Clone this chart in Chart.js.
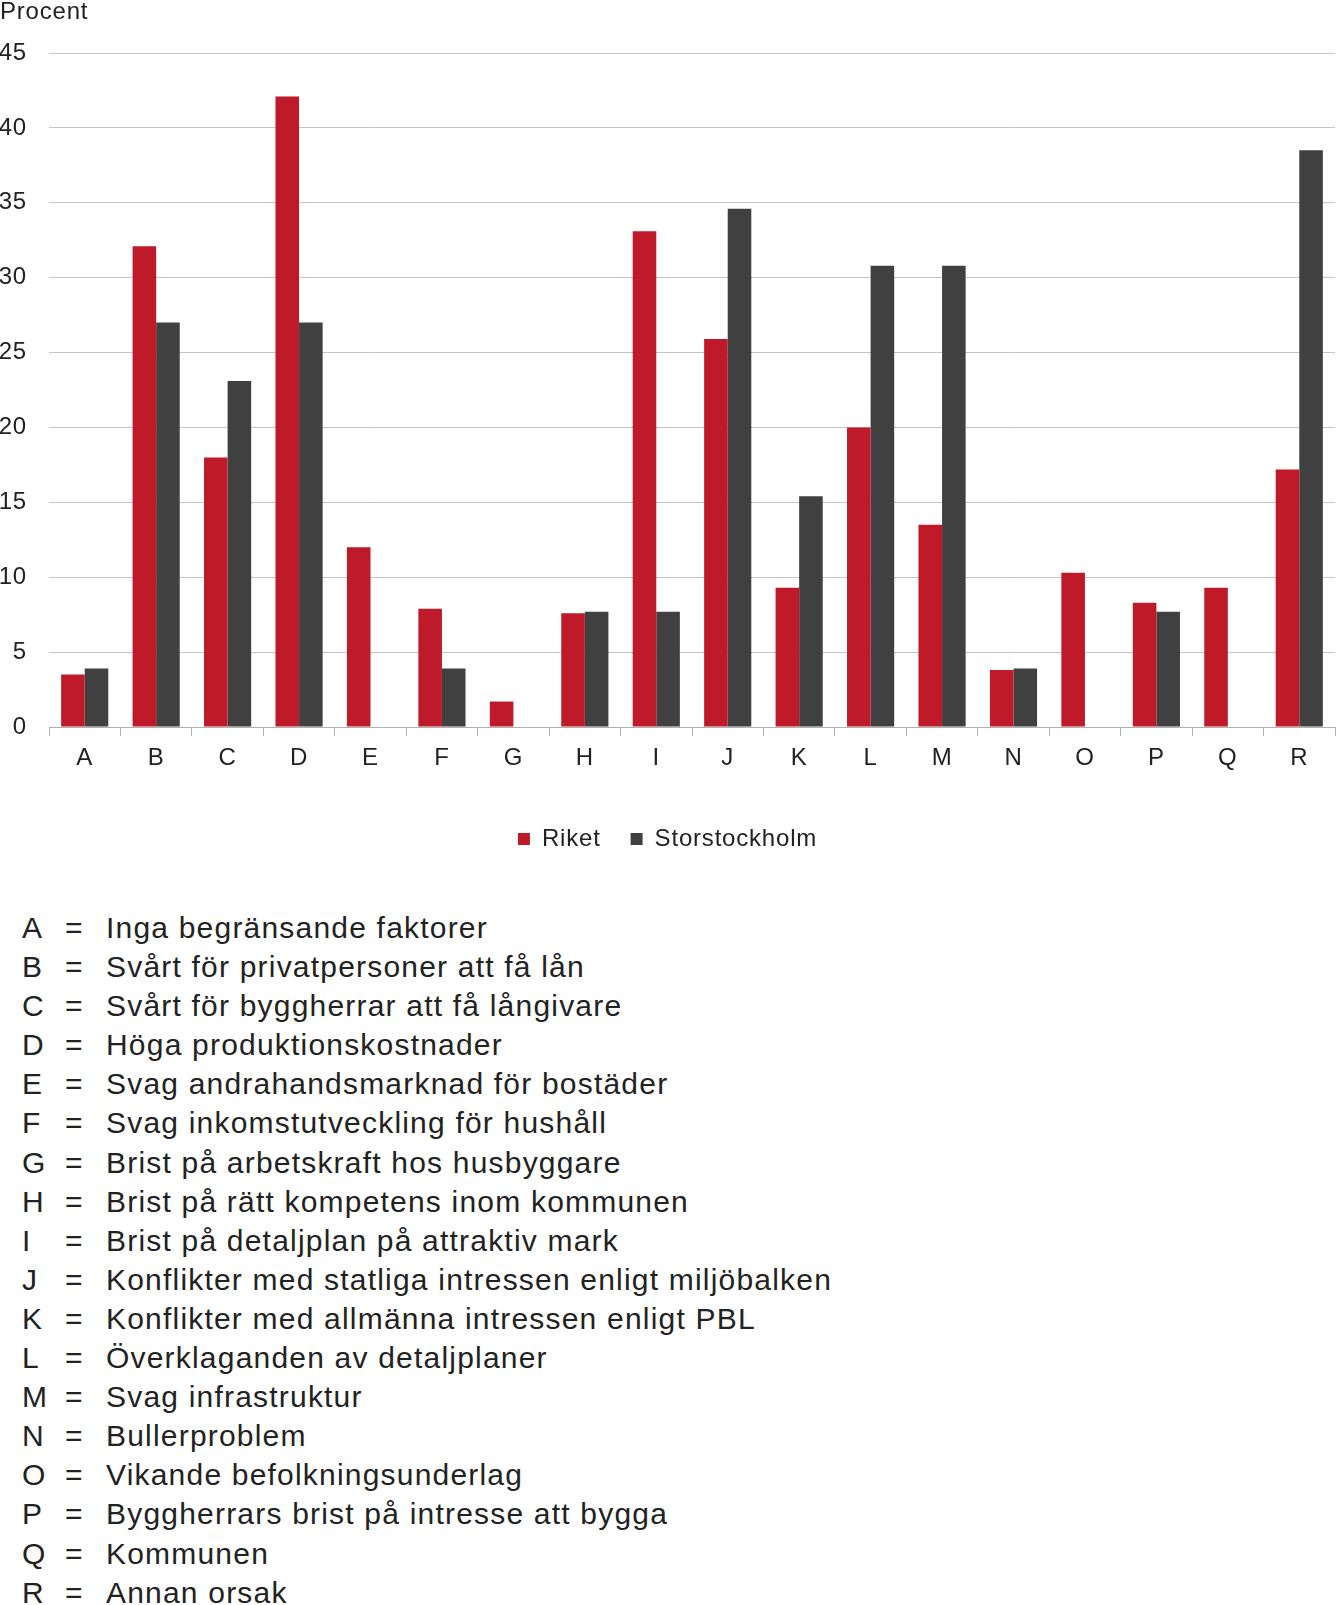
<!DOCTYPE html>
<html lang="sv">
<head>
<meta charset="utf-8">
<title>Begränsande faktorer</title>
<script src="https://cdn.jsdelivr.net/npm/chart.js@4/dist/chart.umd.min.js"></script>
<style>
    html, body {
        margin: 0;
        padding: 0;
        background: #fff;
        width: 1336px;
        height: 1605px;
        overflow: hidden;
        font-family: "Liberation Sans", Arial, sans-serif;
        color: #222;
    }
    #chartBox {
        position: absolute;
        left: 0;
        top: 0;
        width: 1336px;
        height: 861px;
    }
    #key {
        position: absolute;
        left: 0;
        top: 908px;
        font-size: 30px;
        letter-spacing: 1.2px;
        line-height: 39.1px;
    }
    #key .row { display: flex; white-space: nowrap; }
    #key .code { width: 43px; padding-left: 22px; }
    #key .eq { width: 41px; }
</style>
</head>
<body>
<div id="chartBox"><canvas id="barChart"></canvas></div>
<div id="key"></div>

<script>
// ============================================================================
// Data
// ============================================================================
const categories = ['A', 'B', 'C', 'D', 'E', 'F', 'G', 'H', 'I', 'J', 'K', 'L', 'M', 'N', 'O', 'P', 'Q', 'R'];
const riket = [3.5, 32.1, 18.0, 42.1, 12.0, 7.9, 1.7, 7.6, 33.1, 25.9, 9.3, 20.0, 13.5, 3.8, 10.3, 8.3, 9.3, 17.2];
const storstockholm = [3.9, 27.0, 23.1, 27.0, 0, 3.9, 0, 7.7, 7.7, 34.6, 15.4, 30.8, 30.8, 3.9, 0, 7.7, 0, 38.5];
const yTicks = [0, 5, 10, 15, 20, 25, 30, 35, 40, 45];
const descriptions = [
    'Inga begränsande faktorer',
    'Svårt för privatpersoner att få lån',
    'Svårt för byggherrar att få långivare',
    'Höga produktionskostnader',
    'Svag andrahandsmarknad för bostäder',
    'Svag inkomstutveckling för hushåll',
    'Brist på arbetskraft hos husbyggare',
    'Brist på rätt kompetens inom kommunen',
    'Brist på detaljplan på attraktiv mark',
    'Konflikter med statliga intressen enligt miljöbalken',
    'Konflikter med allmänna intressen enligt PBL',
    'Överklaganden av detaljplaner',
    'Svag infrastruktur',
    'Bullerproblem',
    'Vikande befolkningsunderlag',
    'Byggherrars brist på intresse att bygga',
    'Kommunen',
    'Annan orsak'
];

const RED = '#be1a2a';
const DARK = '#404040';
const TEXT = '#222222';
const FONT = '"Liberation Sans", Arial, sans-serif';

// Key below the chart
const key = document.getElementById('key');
categories.forEach((c, i) => {
    const row = document.createElement('div');
    row.className = 'row';
    row.innerHTML = `<span class="code">${c}</span><span class="eq">=</span><span>${descriptions[i]}</span>`;
    key.appendChild(row);
});

// Helper: slight letter spacing on canvas text
const spacing = {
    id: 'spacing',
    beforeUpdate(chart) { chart.ctx.letterSpacing = '0.8px'; },
    beforeDraw(chart) { chart.ctx.letterSpacing = '0.8px'; }
};

new Chart(document.getElementById('barChart'), {
    type: 'bar',
    data: {
        labels: categories,
        datasets: [{
            label: 'Riket',
            data: riket,
            backgroundColor: RED,
            borderWidth: 0,
            barPercentage: 1,
            categoryPercentage: 0.66
        }, {
            label: 'Storstockholm',
            data: storstockholm,
            backgroundColor: DARK,
            borderWidth: 0,
            barPercentage: 1,
            categoryPercentage: 0.66
        }]
    },
    options: {
        responsive: true,
        maintainAspectRatio: false,
        animation: false,
        layout: { padding: { left: 0, right: 1, top: 0, bottom: 0 } },
        plugins: {
            title: {
                display: true,
                text: 'Procent',
                align: 'start',
                color: TEXT,
                font: { family: FONT, size: 24, weight: 'normal', lineHeight: 1 },
                padding: { top: 0, bottom: 29 }
            },
            legend: {
                position: 'bottom',
                labels: {
                    color: TEXT,
                    boxWidth: 12,
                    boxHeight: 12,
                    padding: 30,
                    font: { family: FONT, size: 24 }
                }
            },
            tooltip: { enabled: false }
        },
        scales: {
            y: {
                min: 0,
                max: 45,
                border: { display: false },
                grid: {
                    color: '#c4c4c4',
                    lineWidth: 1,
                    drawTicks: false
                },
                afterBuildTicks: (scale) => {
                    scale.ticks = yTicks.map(v => ({ value: v }));
                },
                afterFit: (scale) => { scale.width = 49; },
                ticks: {
                    color: TEXT,
                    padding: 22,
                    font: { family: FONT, size: 24 }
                }
            },
            x: {
                border: { display: true, color: '#b0b0b0', width: 1 },
                grid: {
                    offset: true,
                    drawOnChartArea: false,
                    drawTicks: true,
                    tickLength: 9,
                    color: '#b0b0b0'
                },
                afterFit: (scale) => { scale.height = 70; },
                ticks: {
                    color: TEXT,
                    padding: 8,
                    font: { family: FONT, size: 24 }
                }
            }
        }
    },
    plugins: [spacing]
});
</script>
</body>
</html>
